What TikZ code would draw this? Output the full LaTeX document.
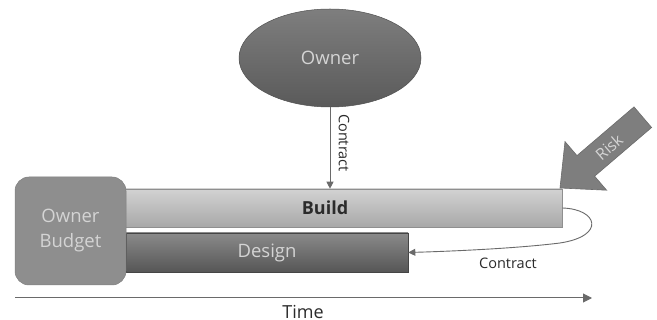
\documentclass[tikz,border=0pt]{standalone}
\usepackage{fontspec}
\setmainfont{Open Sans}
\usetikzlibrary{arrows.meta,shapes.geometric}
\definecolor{ownerTop}{HTML}{7E7E7E}
\definecolor{ownerBot}{HTML}{5A5A5A}
\definecolor{budgetFill}{HTML}{8E8E8E}
\definecolor{buildTop}{HTML}{D2D2D2}
\definecolor{buildBot}{HTML}{A8A8A8}
\definecolor{designTop}{HTML}{8A8A8A}
\definecolor{designBot}{HTML}{565656}
\definecolor{riskFill}{HTML}{7E7E7E}
\definecolor{lineGray}{HTML}{6A6A6A}
\definecolor{lightText}{HTML}{D4D4D4}
\definecolor{darkText}{HTML}{2B2B2B}
\tikzset{
  bigtext/.style={font=\fontsize{18.5}{21}\selectfont},
  smalltext/.style={font=\fontsize{14.5}{17}\selectfont, text=darkText},
  bar/.style={rectangle, inner sep=0pt, draw=#1, line width=0.6pt},
  conn/.style={draw=lineGray, line width=0.9pt, -{Triangle[width=7pt,length=7pt]}},
  axis/.style={draw=lineGray, line width=1pt, -{Triangle[width=9pt,length=9pt]}},
}
\begin{document}
\begin{tikzpicture}[x=1pt,y=-1pt]
\useasboundingbox (0,0) rectangle (657,320);
\fill[white] (0,0) rectangle (657,320);

% owner ellipse
\node[ellipse, minimum width=182pt, minimum height=98pt, inner sep=0pt,
      top color=ownerTop, bottom color=ownerBot, draw=ownerBot!90!black, line width=0.5pt,
      bigtext, text=lightText] (owner) at (330,58) {Owner};

% build and design bars
\node[bar=buildBot!85!black, top color=buildTop, bottom color=buildBot,
      minimum width=474pt, minimum height=38pt, bigtext, text=darkText,
      font=\fontsize{18}{21}\selectfont\bfseries] (build) at (325,208) {Build};
\node[bar=designBot!80!black, top color=designTop, bottom color=designBot,
      minimum width=282pt, minimum height=39pt, bigtext, text=lightText] (design) at (267,252.5) {Design};

% owner budget box
\node[rectangle, rounded corners=14pt, fill=budgetFill, draw=budgetFill!90!black, line width=0.5pt,
      minimum width=111pt, minimum height=108pt, align=center, bigtext, text=lightText,
      font=\fontsize{18.5}{25}\selectfont] (budget) at (70.5,231) {Owner\\Budget};

% contract from owner to build
\draw[conn] (owner.south) -- (owner.south |- build.north);
\node[smalltext, rotate=-90] (c1) at (344,143) {Contract};

% contract from build to design
\draw[conn] (build.east) .. controls (598,209) and (606,236) .. (560,243)
            .. controls (520,248) and (460,251) .. (design.east);
\node[smalltext] (c2) at (508,263) {Contract};

% risk arrow
\filldraw[fill=riskFill, draw=riskFill!85!black, line width=0.6pt, line join=miter]
  (560,188) -- (606.6,190.2) -- (594.6,176.2) -- (651.6,127.5)
  -- (634.0,106.9) -- (577.0,155.6) -- (565.0,141.6) -- cycle;
\node[font=\fontsize{16}{19}\selectfont, text=lightText, rotate=40.6] (risk) at (609,147) {Risk};

% time axis
\coordinate (t0) at (15,298);
\coordinate (t1) at (592,298);
\draw[axis] (t0) -- (t1);
\node[font=\fontsize{18}{21}\selectfont, text=darkText, anchor=base] (time) at (303,318.5) {Time};
\end{tikzpicture}
\end{document}
